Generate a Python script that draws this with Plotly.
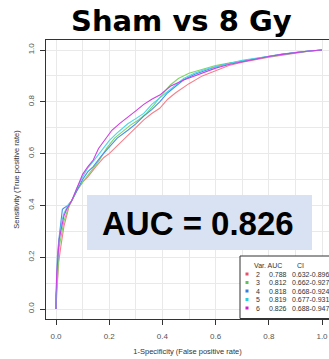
import plotly.graph_objects as go

# ---------------- data ----------------
var_names = ["2", "3", "4", "5", "6"]
auc_values = ["0.788", "0.812", "0.818", "0.819", "0.826"]
ci_values = ["0.632-0.896", "0.662-0.927", "0.668-0.924", "0.677-0.931", "0.688-0.947"]
line_colors = ["#f4808a", "#80d466", "#4690ea", "#46d8e8", "#cf3fe0"]
marker_colors = ["#e8506a", "#5cc35c", "#2f7fe0", "#22d0e0", "#cc22cc"]

fpr_2 = [0, 0.0, 0.005, 0.01, 0.018, 0.022, 0.03, 0.04, 0.05, 0.06, 0.08, 0.10, 0.12, 0.15, 0.18, 0.20, 0.23, 0.27, 0.30, 0.33, 0.36, 0.39, 0.42, 0.45, 0.50, 0.55, 0.60, 0.65, 0.70, 0.75, 0.80, 0.85, 0.90, 0.95, 1.0]
tpr_2 = [0, 0.05, 0.10, 0.18, 0.24, 0.27, 0.32, 0.36, 0.40, 0.42, 0.46, 0.49, 0.51, 0.55, 0.585, 0.60, 0.63, 0.67, 0.70, 0.73, 0.755, 0.775, 0.81, 0.835, 0.87, 0.90, 0.92, 0.94, 0.953, 0.963, 0.972, 0.98, 0.988, 0.995, 1.0]

fpr_3 = [0, 0.003, 0.008, 0.012, 0.02, 0.03, 0.04, 0.05, 0.06, 0.08, 0.10, 0.13, 0.16, 0.19, 0.22, 0.25, 0.28, 0.31, 0.34, 0.37, 0.40, 0.43, 0.46, 0.50, 0.55, 0.60, 0.65, 0.70, 0.75, 0.80, 0.85, 0.90, 0.95, 1.0]
tpr_3 = [0, 0.08, 0.16, 0.24, 0.29, 0.34, 0.37, 0.40, 0.42, 0.46, 0.49, 0.53, 0.57, 0.62, 0.66, 0.685, 0.71, 0.73, 0.755, 0.79, 0.83, 0.865, 0.89, 0.91, 0.925, 0.94, 0.95, 0.958, 0.966, 0.975, 0.982, 0.99, 0.995, 1.0]

fpr_4 = [0, 0.002, 0.005, 0.01, 0.015, 0.02, 0.024, 0.03, 0.045, 0.06, 0.08, 0.10, 0.12, 0.14, 0.17, 0.20, 0.23, 0.27, 0.30, 0.33, 0.36, 0.39, 0.42, 0.45, 0.48, 0.52, 0.56, 0.60, 0.65, 0.70, 0.75, 0.80, 0.85, 0.90, 0.95, 1.0]
tpr_4 = [0, 0.10, 0.20, 0.26, 0.30, 0.34, 0.385, 0.39, 0.40, 0.42, 0.46, 0.50, 0.53, 0.55, 0.59, 0.625, 0.66, 0.69, 0.715, 0.745, 0.77, 0.80, 0.835, 0.86, 0.885, 0.905, 0.92, 0.935, 0.948, 0.958, 0.967, 0.976, 0.984, 0.991, 0.996, 1.0]

fpr_5 = [0, 0.002, 0.006, 0.01, 0.016, 0.022, 0.03, 0.045, 0.06, 0.08, 0.10, 0.12, 0.14, 0.17, 0.20, 0.23, 0.27, 0.30, 0.33, 0.36, 0.39, 0.42, 0.45, 0.48, 0.52, 0.56, 0.60, 0.65, 0.70, 0.75, 0.80, 0.85, 0.90, 0.95, 1.0]
tpr_5 = [0, 0.09, 0.18, 0.25, 0.30, 0.34, 0.37, 0.40, 0.42, 0.47, 0.51, 0.545, 0.57, 0.61, 0.65, 0.68, 0.715, 0.735, 0.755, 0.79, 0.815, 0.84, 0.865, 0.89, 0.91, 0.925, 0.935, 0.948, 0.96, 0.968, 0.976, 0.984, 0.99, 0.996, 1.0]

fpr_6 = [0, 0.0, 0.003, 0.008, 0.012, 0.02, 0.03, 0.04, 0.05, 0.06, 0.08, 0.10, 0.12, 0.14, 0.16, 0.18, 0.21, 0.24, 0.27, 0.30, 0.33, 0.36, 0.39, 0.43, 0.48, 0.52, 0.56, 0.60, 0.65, 0.70, 0.75, 0.80, 0.85, 0.90, 0.95, 1.0]
tpr_6 = [0, 0.06, 0.14, 0.22, 0.27, 0.31, 0.36, 0.385, 0.40, 0.42, 0.47, 0.52, 0.55, 0.575, 0.62, 0.65, 0.69, 0.717, 0.74, 0.765, 0.79, 0.81, 0.826, 0.86, 0.884, 0.90, 0.915, 0.93, 0.944, 0.955, 0.965, 0.975, 0.983, 0.99, 0.996, 1.0]

tick_vals = [0.0, 0.2, 0.4, 0.6, 0.8, 1.0]
tick_text = ["0.0", "0.2", "0.4", "0.6", "0.8", "1.0"]

title_text = "Sham vs 8 Gy"
x_title = "1-Specificity (False positive rate)"
y_title = "Sensitivity (True positive rate)"

curves = [(fpr_2, tpr_2), (fpr_3, tpr_3), (fpr_4, tpr_4), (fpr_5, tpr_5), (fpr_6, tpr_6)]

# ---------------- layout geometry (pixels) ----------------
W, H = 329, 359
L, R, T, B = 46, 0, 40, 40
pw = W - L - R
ph = H - T - B


def px(x):
    return (x - L) / pw


def py(y):
    return (H - B - y) / ph


fig = go.Figure()
for (fx, ty), name, col in zip(curves, var_names, line_colors):
    fig.add_trace(go.Scatter(x=fx, y=ty, mode="lines", name=name,
                             line=dict(color=col, width=1.1),
                             showlegend=False))

grid_col = "#e9e9e9"
axis_font = dict(family="Liberation Sans, Arial, sans-serif", size=8, color="#555555")
fig.update_xaxes(range=[-0.0376, 1.0263], tickvals=tick_vals, ticktext=tick_text,
                 ticks="outside", ticklen=5, tickcolor="#333333", tickfont=axis_font,
                 showline=True, mirror=True, linecolor="#333333", linewidth=1,
                 showgrid=True, gridcolor=grid_col, gridwidth=1,
                 minor=dict(dtick=0.1, tick0=0, showgrid=True, gridcolor=grid_col, gridwidth=1),
                 zeroline=False, ticklabelstandoff=4,
                 title=dict(text=x_title, font=dict(family="Liberation Sans, Arial", size=7.5, color="#333333"), standoff=9))
fig.update_yaxes(range=[-0.0386, 1.0386], tickvals=tick_vals, ticktext=tick_text,
                 ticks="outside", ticklen=5, tickcolor="#333333", tickfont=axis_font,
                 tickangle=-90,
                 showline=True, mirror=False, linecolor="#333333", linewidth=1,
                 showgrid=True, gridcolor=grid_col, gridwidth=1,
                 minor=dict(dtick=0.1, tick0=0, showgrid=True, gridcolor=grid_col, gridwidth=1),
                 zeroline=False, ticklabelstandoff=3,
                 title=dict(text=y_title, font=dict(family="Liberation Sans, Arial", size=7.5, color="#333333"), standoff=6))

shapes = []
annotations = []

# title
annotations.append(dict(text="<b>" + title_text + "</b>", xref="paper", yref="paper",
                        x=px(181), y=py(21), xanchor="center", yanchor="middle", showarrow=False,
                        font=dict(family="DejaVu Sans", size=29, color="#000000")))

# AUC box
shapes.append(dict(type="rect", xref="paper", yref="paper", x0=px(87), x1=px(312), y0=py(250), y1=py(195),
                   fillcolor="#d8e2f2", line=dict(width=0), layer="above"))
annotations.append(dict(text="<b>AUC = " + auc_values[-1] + "</b>", xref="paper", yref="paper",
                        x=px(198), y=py(223), xanchor="center", yanchor="middle", showarrow=False,
                        font=dict(family="Liberation Sans, Arial", size=33, color="#000000")))

# legend box
shapes.append(dict(type="rect", xref="paper", yref="paper", x0=px(240), x1=px(340), y0=py(318.5), y1=py(256),
                   fillcolor="#ffffff", line=dict(color="#333333", width=1), layer="above"))
lf = dict(family="Liberation Sans, Arial", size=7, color="#333333")
annotations.append(dict(text="Var. AUC", xref="paper", yref="paper", x=px(252), y=py(265),
                        xanchor="left", yanchor="middle", showarrow=False, font=lf))
annotations.append(dict(text="CI", xref="paper", yref="paper", x=px(295), y=py(265),
                        xanchor="left", yanchor="middle", showarrow=False, font=lf))
row_y = [274, 282.5, 291, 299.5, 308]
for i, (v, a, c) in enumerate(zip(var_names, auc_values, ci_values)):
    yy = row_y[i]
    shapes.append(dict(type="rect", xref="paper", yref="paper", x0=px(245.5), x1=px(248.5),
                       y0=py(yy + 1.5), y1=py(yy - 1.5), fillcolor=marker_colors[i],
                       line=dict(width=0), layer="above"))
    annotations.append(dict(text=v, xref="paper", yref="paper", x=px(253.5), y=py(yy),
                            xanchor="left", yanchor="middle", showarrow=False, font=lf))
    annotations.append(dict(text=a, xref="paper", yref="paper", x=px(266.5), y=py(yy),
                            xanchor="left", yanchor="middle", showarrow=False, font=lf))
    annotations.append(dict(text=c, xref="paper", yref="paper", x=px(289.5), y=py(yy),
                            xanchor="left", yanchor="middle", showarrow=False, font=lf))

fig.update_layout(width=W, height=H, margin=dict(l=L, r=R, t=T, b=B, pad=0),
                  paper_bgcolor="#ffffff", plot_bgcolor="#ffffff",
                  shapes=shapes, annotations=annotations, showlegend=False)

fig.write_html("out.html", config={"displayModeBar": False})
